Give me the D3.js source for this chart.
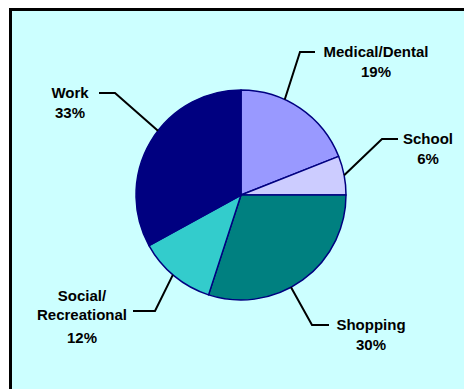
<!DOCTYPE html>
<html>
<head>
<meta charset="utf-8">
<script src="https://cdn.jsdelivr.net/npm/d3@7/dist/d3.min.js"></script>
<style>
  html, body { margin: 0; padding: 0; background: #ffffff; }
  svg { display: block; }
  text { font-family: "Liberation Sans", Arial, sans-serif; font-weight: bold; font-size: 15px; fill: #000000; }
</style>
</head>
<body>
<svg id="chart" width="464" height="389"></svg>
<script>
// Trip purposes, share of trips (%)
const categories = ["Medical/Dental", "School", "Shopping", "Social/Recreational", "Work"];
const shares = [19, 6, 30, 12, 33];
const labelLines = [["Medical/Dental"], ["School"], ["Shopping"], ["Social/", "Recreational"], ["Work"]];
const colors = ["#9999ff", "#ccccff", "#008080", "#33cccc", "#000080"];

// Label placement: where the leader leaves the rim (fraction through the slice),
// the elbow and end points, and the text block centre.
const labelLayout = [
  { t: 0.36, elbow: [300, 52], end: [315, 52], text: [376, 52] },
  { t: 0.5, elbow: [382, 139], end: [398, 139], text: [428, 139] },
  { t: 0.57, elbow: [312, 325], end: [329, 325], text: [371, 325] },
  { t: 0.52, elbow: [155, 311], end: [133, 311], text: [82, 296] },
  { t: 0.56, elbow: [115, 93], end: [99, 93], text: [70, 93] }
];

const W = 464, H = 389;
const cx = 241, cy = 195, R = 105;

const svg = d3.select("#chart");

// Chart frame: runs off the right and bottom edges
svg.append("rect")
  .attr("x", 10.5).attr("y", 9.5)
  .attr("width", 600).attr("height", 600)
  .attr("fill", "#ccffff")
  .attr("stroke", "#000000")
  .attr("stroke-width", 3);

const data = categories.map((c, i) => ({ name: c, value: shares[i], lines: labelLines[i], color: colors[i], layout: labelLayout[i] }));

const pie = d3.pie().value(d => d.value).sort(null);
const arc = d3.arc().innerRadius(0).outerRadius(R);
const arcs = pie(data);

const g = svg.append("g").attr("transform", `translate(${cx},${cy})`);

g.selectAll("path.slice")
  .data(arcs)
  .join("path")
  .attr("class", "slice")
  .attr("d", arc)
  .attr("fill", d => d.data.color)
  .attr("stroke", "#000080")
  .attr("stroke-width", 1.5)
  .attr("stroke-linejoin", "round");

// Leader lines
const labels = svg.append("g");
arcs.forEach(a => {
  const L = a.data.layout;
  const ang = a.startAngle + (a.endAngle - a.startAngle) * L.t;
  const sx = cx + R * Math.sin(ang);
  const sy = cy - R * Math.cos(ang);
  labels.append("polyline")
    .attr("points", [[sx, sy], L.elbow, L.end].map(p => p.join(",")).join(" "))
    .attr("fill", "none")
    .attr("stroke", "#000000")
    .attr("stroke-width", 2);

  const lines = a.data.lines.concat([d3.format(".0f")(a.data.value) + "%"]);
  const gaps = lines.length === 3 ? [0, 18.5, 41.5] : [0, 20];
  lines.forEach((ln, k) => {
    labels.append("text")
      .attr("x", L.text[0])
      .attr("y", L.text[1] + gaps[k])
      .attr("dy", "0.36em")
      .attr("text-anchor", "middle")
      .text(ln);
  });
});
</script>
</body>
</html>
